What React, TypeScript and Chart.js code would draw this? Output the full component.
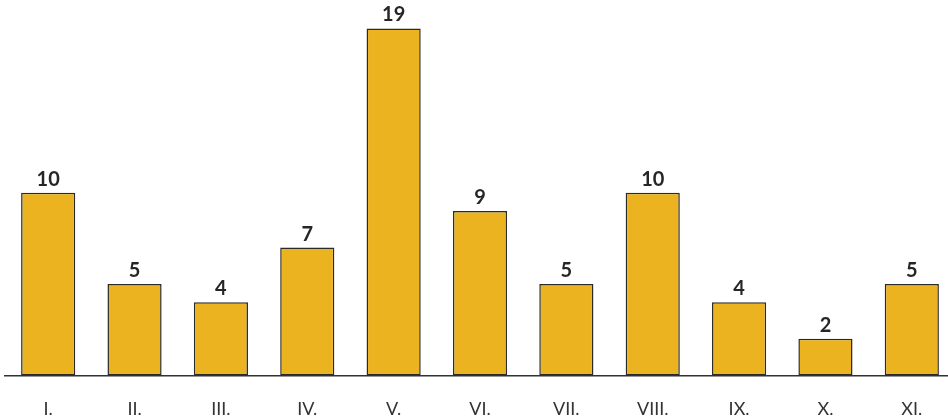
import React, { useEffect, useRef } from "react";
import { Chart, registerables } from "chart.js";

Chart.register(...registerables);

const categories = ["I.", "II.", "III.", "IV.", "V.", "VI.", "VII.", "VIII.", "IX.", "X.", "XI."];
const values = [10, 5, 4, 7, 19, 9, 5, 10, 4, 2, 5];

const valueLabels = {
  id: "valueLabels",
  afterDatasetsDraw(chart: any) {
    const ctx = chart.ctx;
    const meta = chart.getDatasetMeta(0);
    ctx.save();
    ctx.font = "bold 20px Lato";
    ctx.fillStyle = "#262626";
    ctx.textAlign = "center";
    ctx.textBaseline = "alphabetic";
    meta.data.forEach((el: any, i: number) => {
      ctx.fillText(String(values[i]), el.x, el.y - 7);
    });
    ctx.restore();
  },
};

export default function App() {
  const ref = useRef<HTMLCanvasElement | null>(null);
  useEffect(() => {
    if (!ref.current) return;
    const chart = new Chart(ref.current, {
      type: "bar",
      data: {
        labels: categories,
        datasets: [
          {
            data: values,
            backgroundColor: "#EBB31F",
            borderColor: "#2a2a2a",
            borderWidth: 1.5,
            borderSkipped: false,
            categoryPercentage: 1,
            barPercentage: 0.627,
          },
        ],
      },
      options: {
        responsive: false,
        animation: false,
        layout: { padding: { left: 5, right: 0, top: 1, bottom: 2 } },
        plugins: { legend: { display: false }, tooltip: { enabled: false } },
        scales: {
          x: {
            grid: { display: false, drawTicks: false },
            border: { display: true, color: "#333333", width: 1.5 },
            ticks: { color: "#333333", font: { family: "Lato", size: 18 }, padding: 23 },
          },
          y: {
            display: false,
            min: 0,
            max: 20.5,
          },
        },
      },
      plugins: [valueLabels],
    });
    return () => chart.destroy();
  }, []);
  return (
    <div style={{ position: "absolute", left: 0, top: 0, width: 948, height: 420, overflow: "hidden", background: "#fff" }}>
      <canvas ref={ref} width={955} height={445} style={{ display: "block" }} />
    </div>
  );
}
